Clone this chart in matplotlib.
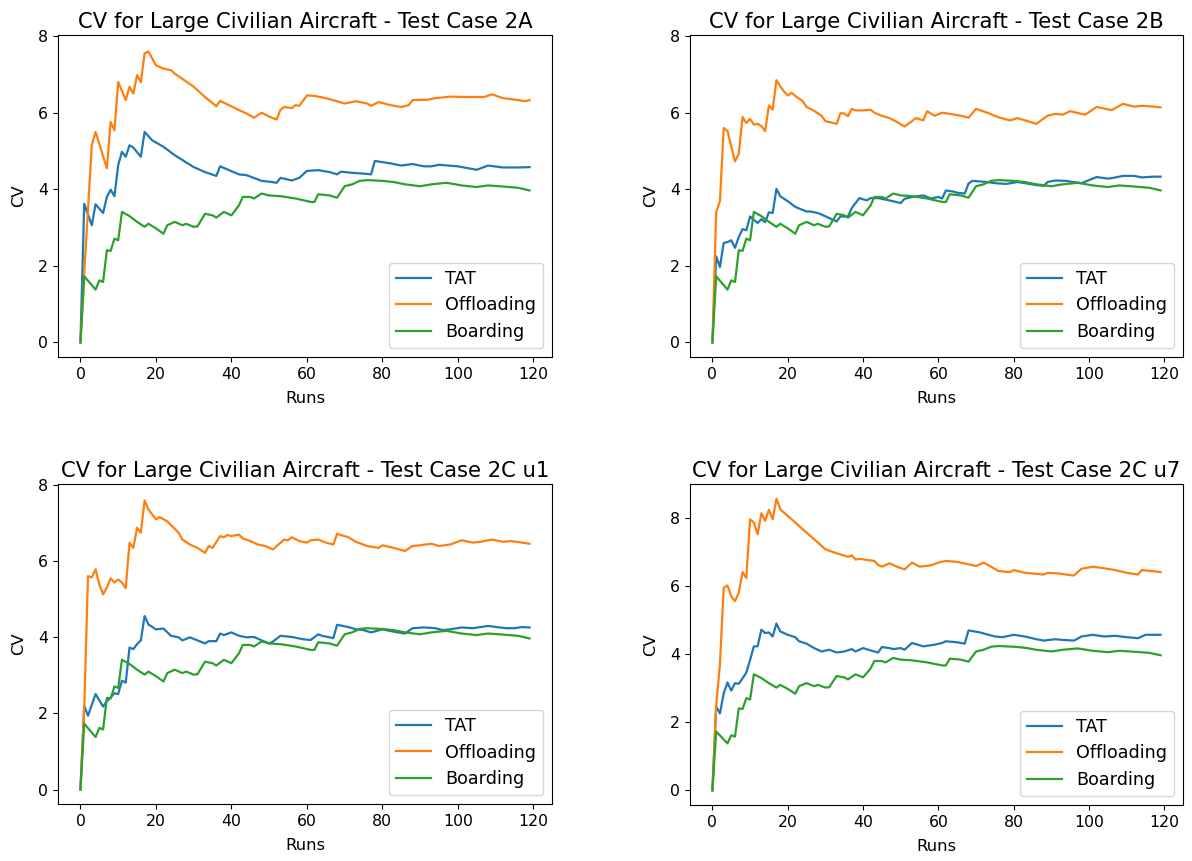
import matplotlib
matplotlib.use("Agg")
import matplotlib.pyplot as plt

# ---------------- data (run index, CV value) ----------------
boarding_runs = [0, 1, 4, 5, 6, 7, 8, 9, 10, 11, 13, 15, 17, 18, 20, 22, 23, 25, 27, 28, 30, 31, 33, 35, 36, 38,
                 40, 42, 43, 45, 46, 48, 50, 53, 57, 61, 62, 63, 66, 68, 70, 72, 74, 76, 80, 83, 86, 90, 93,
                 97, 101, 105, 108, 111, 116, 119]
boarding_cv = [0, 1.73, 1.38, 1.62, 1.58, 2.41, 2.39, 2.71, 2.67, 3.41, 3.30, 3.15, 3.02, 3.10, 2.98, 2.84, 3.06,
               3.15, 3.06, 3.10, 3.02, 3.03, 3.36, 3.32, 3.26, 3.41, 3.32, 3.58, 3.80, 3.80, 3.76, 3.89, 3.84,
               3.82, 3.76, 3.67, 3.67, 3.87, 3.84, 3.78, 4.08, 4.13, 4.22, 4.24, 4.22, 4.19, 4.13, 4.08, 4.13,
               4.17, 4.10, 4.06, 4.10, 4.08, 4.04, 3.97]

# Test Case 2A
tat_2a_runs = [0, 1, 3, 4, 6, 7, 8, 9, 10, 11, 12, 13, 14, 16, 17, 19, 22, 25, 30, 33, 36, 37, 42, 44, 48, 50,
               52, 53, 56, 58, 60, 63, 66, 68, 69, 72, 75, 77, 78, 82, 85, 88, 91, 93, 95, 100, 105, 108, 112,
               116, 119]
tat_2a_cv = [0, 3.62, 3.06, 3.61, 3.38, 3.80, 3.99, 3.82, 4.63, 4.98, 4.85, 5.15, 5.09, 4.85, 5.50, 5.28, 5.11,
             4.89, 4.58, 4.45, 4.35, 4.60, 4.39, 4.37, 4.22, 4.20, 4.17, 4.30, 4.23, 4.30, 4.48, 4.50, 4.45,
             4.39, 4.46, 4.43, 4.41, 4.39, 4.74, 4.68, 4.62, 4.66, 4.60, 4.60, 4.64, 4.60, 4.51, 4.62, 4.57,
             4.57, 4.58]
off_2a_runs = [0, 1, 3, 4, 7, 8, 9, 10, 12, 13, 14, 15, 16, 17, 18, 20, 22, 24, 25, 30, 33, 36, 37, 42, 44, 46,
               48, 50, 52, 53, 54, 56, 57, 58, 60, 62, 65, 68, 70, 73, 76, 77, 79, 82, 85, 87, 88, 92, 94, 98,
               102, 107, 109, 112, 116, 118, 119]
off_2a_cv = [0, 1.80, 5.15, 5.50, 4.55, 5.76, 5.54, 6.80, 6.33, 6.68, 6.50, 6.98, 6.80, 7.55, 7.60, 7.24, 7.15,
             7.11, 7.02, 6.68, 6.41, 6.17, 6.31, 6.07, 5.98, 5.87, 6.00, 5.90, 5.82, 6.08, 6.15, 6.12, 6.20,
             6.18, 6.45, 6.44, 6.38, 6.30, 6.24, 6.30, 6.24, 6.18, 6.28, 6.20, 6.15, 6.20, 6.33, 6.34, 6.38,
             6.42, 6.41, 6.41, 6.48, 6.38, 6.33, 6.30, 6.33]

# Test Case 2B
tat_2b_runs = [0, 1, 2, 3, 4, 5, 6, 7, 8, 9, 10, 12, 13, 14, 15, 16, 17, 18, 20, 22, 25, 26, 28, 29, 31, 33,
               34, 36, 37, 39, 41, 42, 44, 47, 50, 51, 53, 56, 58, 60, 61, 62, 64, 65, 67, 68, 69, 73, 75, 78,
               81, 83, 86, 88, 89, 91, 94, 95, 98, 99, 102, 105, 106, 109, 112, 114, 117, 119]
tat_2b_cv = [0, 2.25, 1.97, 2.60, 2.62, 2.67, 2.47, 2.75, 2.96, 2.93, 3.29, 3.12, 3.22, 3.14, 3.40, 3.38, 4.01,
             3.82, 3.69, 3.54, 3.42, 3.42, 3.38, 3.34, 3.25, 3.16, 3.29, 3.29, 3.51, 3.77, 3.71, 3.77, 3.77,
             3.71, 3.64, 3.75, 3.80, 3.84, 3.76, 3.80, 3.76, 3.97, 3.94, 3.91, 3.89, 4.15, 4.22, 4.19, 4.16,
             4.14, 4.19, 4.16, 4.11, 4.09, 4.19, 4.23, 4.22, 4.20, 4.16, 4.20, 4.32, 4.28, 4.29, 4.35, 4.35,
             4.31, 4.33, 4.33]
off_2b_runs = [0, 1, 2, 3, 4, 5, 6, 7, 8, 9, 10, 11, 12, 13, 14, 15, 16, 17, 18, 19, 20, 21, 22, 24, 25, 27,
               29, 30, 33, 34, 35, 36, 37, 38, 40, 42, 43, 45, 47, 49, 51, 53, 54, 56, 57, 59, 61, 63, 66, 68,
               70, 73, 76, 79, 81, 83, 86, 89, 91, 93, 95, 98, 99, 102, 104, 106, 109, 112, 114, 117, 119]
off_2b_cv = [0, 3.40, 3.69, 5.60, 5.52, 5.12, 4.73, 4.93, 5.89, 5.73, 5.84, 5.69, 5.71, 5.65, 5.52, 6.19, 6.08,
             6.85, 6.69, 6.56, 6.45, 6.52, 6.44, 6.30, 6.15, 6.05, 5.92, 5.78, 5.71, 5.99, 5.98, 5.91, 6.10,
             6.06, 6.06, 6.08, 6.00, 5.92, 5.86, 5.76, 5.64, 5.78, 5.86, 5.80, 6.04, 5.92, 6.00, 5.97, 5.92,
             5.87, 6.10, 6.00, 5.88, 5.80, 5.86, 5.80, 5.71, 5.92, 5.97, 5.95, 6.04, 5.97, 5.95, 6.15, 6.11,
             6.07, 6.23, 6.16, 6.18, 6.16, 6.14]

# Test Case 2C u1
tat_2c1_runs = [0, 1, 2, 4, 6, 7, 8, 9, 10, 11, 12, 13, 14, 15, 16, 17, 18, 20, 22, 24, 26, 27, 29, 31, 33, 34,
                36, 37, 38, 40, 42, 44, 46, 48, 50, 51, 53, 56, 59, 61, 63, 64, 67, 68, 71, 73, 75, 77, 80, 83,
                86, 88, 91, 94, 96, 98, 101, 104, 108, 111, 113, 115, 117, 119]
tat_2c1_cv = [0, 2.20, 1.94, 2.51, 2.18, 2.32, 2.42, 2.53, 2.51, 2.86, 2.81, 3.73, 3.69, 3.82, 3.92, 4.56, 4.34,
              4.21, 4.23, 4.04, 4.00, 3.92, 4.00, 3.92, 3.84, 3.90, 3.90, 4.10, 4.06, 4.13, 4.04, 4.00, 4.01,
              3.92, 3.84, 3.89, 4.04, 4.01, 3.95, 3.93, 4.08, 4.04, 3.98, 4.33, 4.27, 4.21, 4.19, 4.13, 4.21,
              4.15, 4.10, 4.24, 4.26, 4.24, 4.19, 4.21, 4.26, 4.24, 4.30, 4.26, 4.24, 4.24, 4.27, 4.26]
off_2c1_runs = [0, 1, 2, 3, 4, 5, 6, 7, 8, 9, 10, 11, 12, 13, 14, 15, 16, 17, 18, 20, 21, 23, 26, 27, 29, 31,
                33, 34, 35, 37, 38, 39, 40, 42, 43, 45, 47, 49, 51, 52, 54, 55, 56, 58, 60, 61, 63, 65, 67, 68,
                71, 73, 76, 79, 80, 83, 86, 88, 90, 93, 95, 98, 101, 104, 106, 109, 112, 114, 117, 119]
off_2c1_cv = [0, 2.16, 5.61, 5.57, 5.79, 5.39, 5.13, 5.31, 5.55, 5.44, 5.52, 5.44, 5.29, 6.49, 6.35, 6.88, 6.75,
              7.60, 7.36, 7.10, 7.16, 7.05, 6.75, 6.57, 6.44, 6.35, 6.22, 6.40, 6.35, 6.66, 6.63, 6.69, 6.66,
              6.70, 6.60, 6.53, 6.44, 6.40, 6.31, 6.40, 6.57, 6.55, 6.63, 6.53, 6.49, 6.55, 6.57, 6.49, 6.44,
              6.72, 6.63, 6.51, 6.40, 6.35, 6.42, 6.35, 6.27, 6.40, 6.42, 6.46, 6.40, 6.44, 6.55, 6.49, 6.51,
              6.57, 6.51, 6.53, 6.49, 6.46]

# Test Case 2C u7
tat_2c7_runs = [0, 1, 2, 3, 4, 5, 6, 7, 8, 9, 10, 11, 12, 13, 14, 15, 16, 17, 18, 20, 22, 23, 25, 27, 29, 31,
                33, 35, 37, 38, 40, 42, 44, 45, 47, 48, 50, 51, 53, 56, 59, 61, 62, 65, 67, 68, 71, 75, 77, 80,
                83, 86, 88, 91, 93, 96, 98, 101, 104, 107, 110, 113, 115, 119]
tat_2c7_cv = [0, 2.46, 2.26, 2.85, 3.17, 2.93, 3.15, 3.13, 3.29, 3.46, 3.83, 4.23, 4.23, 4.72, 4.62, 4.64, 4.52,
              4.90, 4.67, 4.57, 4.50, 4.38, 4.31, 4.18, 4.08, 4.13, 4.05, 4.08, 4.15, 4.08, 4.18, 4.11, 4.05,
              4.21, 4.18, 4.15, 4.18, 4.13, 4.33, 4.23, 4.28, 4.33, 4.38, 4.35, 4.31, 4.70, 4.64, 4.52, 4.50,
              4.57, 4.52, 4.44, 4.40, 4.44, 4.42, 4.40, 4.52, 4.57, 4.52, 4.54, 4.50, 4.47, 4.57, 4.57]
off_2c7_runs = [0, 1, 2, 3, 4, 5, 6, 7, 8, 9, 10, 11, 12, 13, 14, 15, 16, 17, 18, 20, 22, 25, 28, 30, 32, 34,
                36, 37, 38, 39, 41, 43, 44, 45, 47, 49, 51, 53, 55, 58, 60, 62, 65, 68, 70, 72, 74, 76, 79, 80,
                83, 85, 88, 89, 92, 94, 96, 98, 101, 103, 107, 110, 113, 114, 117, 119]
off_2c7_cv = [0, 2.50, 3.70, 5.95, 6.02, 5.70, 5.56, 5.80, 6.41, 6.24, 7.96, 7.87, 7.52, 8.14, 7.92, 8.24, 7.96,
              8.57, 8.26, 8.06, 7.87, 7.57, 7.28, 7.08, 7.00, 6.93, 6.86, 6.90, 6.78, 6.80, 6.77, 6.74, 6.62,
              6.57, 6.67, 6.57, 6.49, 6.69, 6.57, 6.61, 6.69, 6.74, 6.71, 6.64, 6.59, 6.69, 6.57, 6.44, 6.41,
              6.47, 6.39, 6.37, 6.34, 6.39, 6.37, 6.34, 6.31, 6.51, 6.57, 6.54, 6.47, 6.39, 6.34, 6.47, 6.44,
              6.41]

titles = ["CV for Large Civilian Aircraft - Test Case 2A",
          "CV for Large Civilian Aircraft - Test Case 2B",
          "CV for Large Civilian Aircraft - Test Case 2C u1",
          "CV for Large Civilian Aircraft - Test Case 2C u7"]
series_labels = ["TAT", "Offloading", "Boarding"]
x_ticks = [0, 20, 40, 60, 80, 100, 120]
y_ticks = [0, 2, 4, 6, 8]
# y-range used by the first three panels (the last one autoscales)
shared_ylim = (-0.38, 8.03)

panels = [
    ((tat_2a_runs, tat_2a_cv), (off_2a_runs, off_2a_cv)),
    ((tat_2b_runs, tat_2b_cv), (off_2b_runs, off_2b_cv)),
    ((tat_2c1_runs, tat_2c1_cv), (off_2c1_runs, off_2c1_cv)),
    ((tat_2c7_runs, tat_2c7_cv), (off_2c7_runs, off_2c7_cv)),
]

# ---------------- figure ----------------
W, H = 1192, 861
fig = plt.figure(figsize=(W / 100, H / 100), dpi=100)

boxes = [  # left, top, right, bottom in pixels
    (58, 35, 552, 357),
    (690, 35, 1183, 357),
    (58, 484, 552, 804),
    (690, 484, 1183, 805),
]

colors = ["#1f77b4", "#ff7f0e", "#2ca02c"]

for i, ((l, t, r, b), title, (tat, off)) in enumerate(zip(boxes, titles, panels)):
    ax = fig.add_axes([l / W, 1 - b / H, (r - l) / W, (b - t) / H])
    ax.plot(tat[0], tat[1], color=colors[0], lw=1.6, label=series_labels[0])
    ax.plot(off[0], off[1], color=colors[1], lw=1.6, label=series_labels[1])
    ax.plot(boarding_runs, boarding_cv, color=colors[2], lw=1.6, label=series_labels[2])
    ax.set_xticks(x_ticks)
    ax.set_yticks(y_ticks)
    if i < 3:
        ax.set_ylim(*shared_ylim)
    ax.tick_params(labelsize=11.3)
    ax.set_xlabel("Runs", fontsize=11.8, labelpad=7)
    ax.set_ylabel("CV", fontsize=11.8, labelpad=9)
    ax.set_title(title, fontsize=15.2, pad=5)
    ax.legend(loc="lower right", fontsize=12.6)

fig.savefig("out.png", dpi=100)
